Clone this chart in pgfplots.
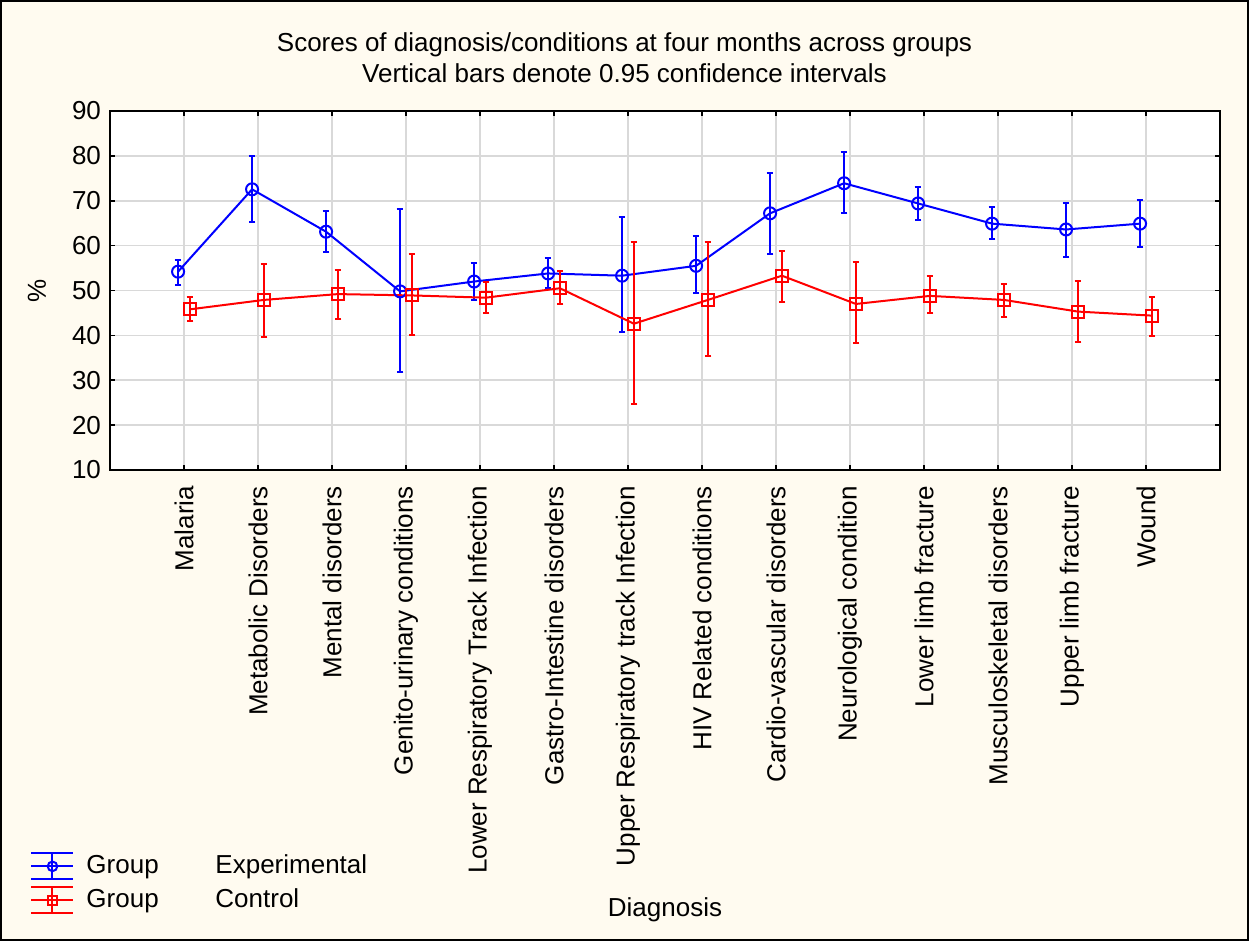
\documentclass[border=0pt]{standalone}
\usepackage{fontspec}
\setmainfont{Liberation Sans}
\usepackage{pgfplots}
\pgfplotsset{compat=1.18}
\definecolor{paper}{RGB}{255,251,240}
\definecolor{gridgray}{RGB}{217,217,217}

\begin{document}
\fontsize{13}{15}\selectfont
\begin{tikzpicture}
% page background and frame
\fill[paper] (0,0) rectangle (624.5pt,470.5pt);
\draw[line width=1pt] (0.5pt,0.5pt) rectangle (624pt,470pt);
\node[align=center, font=\fontsize{13}{15.5}\selectfont] at (312.25pt,441.75pt)
  {Scores of diagnosis/conditions at four months across groups\\
   Vertical bars denote 0.95 confidence intervals};

\begin{axis}[
  at={(55pt,235.5pt)}, anchor=south west,
  scale only axis, width=555pt, height=179.5pt,
  xmin=-1, xmax=14, ymin=10, ymax=90,
  xtick={0,...,13},
  xticklabels={Malaria, Metabolic Disorders, Mental disorders,
    Genito-urinary conditions, Lower Respiratory Track Infection,
    Gastro-Intestine disorders, Upper Respiratory track Infection,
    HIV Related conditions, Cardio-vascular disorders,
    Neurological condition, Lower limb fracture,
    Musculoskeletal disorders, Upper limb fracture, Wound},
  ytick={10,20,...,90},
  /pgf/number format/assume math mode=true,
  tick label style={font=\fontsize{13}{15}\selectfont},
  x tick label style={rotate=90, anchor=east},
  xticklabel shift=3.5pt,
  grid=major,
  major grid style={gridgray, line width=0.75pt},
  axis line style={line width=1pt},
  tick style={black, line width=0.75pt},
  major tick length=2.5pt,
  tick align=inside,
  axis background/.style={fill=white},
  xlabel={Diagnosis},
  ylabel={\%},
  x label style={at={(axis description cs:0.5,0)}, anchor=center, yshift=-220pt},
  y label style={at={(axis description cs:-0.0658,0.5)}, anchor=center},
  label style={font=\fontsize{13}{15}\selectfont},
  legend style={at={(axis description cs:-0.072,-1.064)}, anchor=north west,
    draw=none, fill=none, inner sep=0pt, row sep=3pt, column sep=5pt,
    font=\fontsize{13}{15}\selectfont,
    nodes={inner sep=1pt}},
  legend cell align=left,
  legend image code/.code={
    \draw[#1, mark=none] (0pt,6.5pt)--(21pt,6.5pt) (0pt,0pt)--(21pt,0pt)
      (0pt,-6.5pt)--(21pt,-6.5pt) (10.5pt,6.5pt)--(10.5pt,-6.5pt);
    \draw[#1, only marks, mark size=2.4pt] plot coordinates {(10.5pt,0pt)};
  },
  every axis plot/.append style={line width=1pt},
  error bars/error bar style={line width=1pt},
  error bars/error mark options={rotate=90, mark size=1.7pt, line width=1pt},
]

% Experimental group
\addplot[blue, mark=o, mark size=3pt, mark options={solid},
  error bars/.cd, y dir=both, y explicit]
coordinates {
  (-0.08,54.2) += (0,2.6) -= (0,2.95)
  (0.92,72.55) += (0,7.45) -= (0,7.35)
  (1.92,63.1) += (0,4.6) -= (0,4.5)
  (2.92,49.8) += (0,18.3) -= (0,17.9)
  (3.92,52.0) += (0,4.1) -= (0,4.2)
  (4.92,53.8) += (0,3.5) -= (0,3.3)
  (5.92,53.3) += (0,13.0) -= (0,12.5)
  (6.92,55.5) += (0,6.7) -= (0,6.1)
  (7.92,67.2) += (0,9.0) -= (0,9.0)
  (8.92,73.9) += (0,7.0) -= (0,6.6)
  (9.92,69.4) += (0,3.7) -= (0,3.7)
  (10.92,64.9) += (0,3.6) -= (0,3.5)
  (11.92,63.6) += (0,5.9) -= (0,6.1)
  (12.92,64.9) += (0,5.2) -= (0,5.2)
};
\addlegendentry{\makebox[64.5pt][l]{Group}Experimental}

% Control group
\addplot[red, mark=square, mark size=3pt, mark options={solid},
  error bars/.cd, y dir=both, y explicit]
coordinates {
  (0.08,45.8) += (0,2.7) -= (0,2.6)
  (1.08,47.9) += (0,8.0) -= (0,8.2)
  (2.08,49.2) += (0,5.3) -= (0,5.5)
  (3.08,48.9) += (0,9.2) -= (0,8.9)
  (4.08,48.4) += (0,3.4) -= (0,3.5)
  (5.08,50.5) += (0,3.9) -= (0,3.5)
  (6.08,42.6) += (0,18.2) -= (0,17.8)
  (7.08,47.9) += (0,13.0) -= (0,12.5)
  (8.08,53.3) += (0,5.5) -= (0,5.8)
  (9.08,47.0) += (0,9.3) -= (0,8.7)
  (10.08,48.8) += (0,4.4) -= (0,3.9)
  (11.08,47.9) += (0,3.6) -= (0,3.7)
  (12.08,45.3) += (0,6.9) -= (0,6.7)
  (13.08,44.4) += (0,4.2) -= (0,4.5)
};
\addlegendentry{\makebox[64.5pt][l]{Group}Control}
\end{axis}
\end{tikzpicture}
\end{document}
